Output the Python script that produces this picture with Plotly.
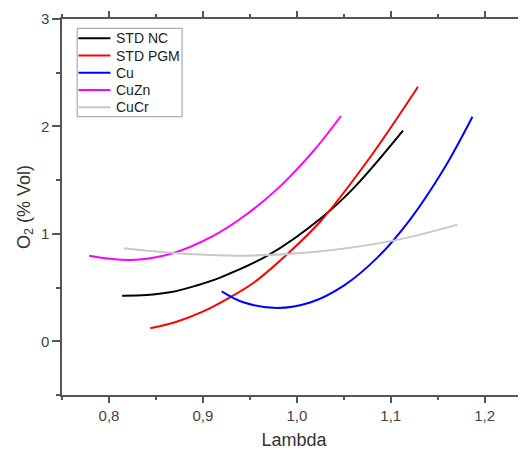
import plotly.graph_objects as go

# Data (Lambda, O2 % Vol)
std_nc_x = [0.814, 0.840, 0.865, 0.892, 0.919, 0.972, 1.025, 1.061, 1.113]
std_nc_y = [0.425, 0.430, 0.456, 0.516, 0.595, 0.813, 1.140, 1.430, 1.960]

std_pgm_x = [0.844, 0.872, 0.901, 0.927, 0.954, 0.990, 1.025, 1.079, 1.129]
std_pgm_y = [0.121, 0.182, 0.281, 0.400, 0.545, 0.813, 1.115, 1.725, 2.369]

cu_x = [0.920, 0.943, 0.979, 1.015, 1.050, 1.086, 1.121, 1.157, 1.187]
cu_y = [0.465, 0.363, 0.310, 0.363, 0.518, 0.781, 1.138, 1.610, 2.090]

cuzn_x = [0.779, 0.823, 0.865, 0.911, 0.947, 0.983, 1.018, 1.047]
cuzn_y = [0.797, 0.757, 0.813, 0.982, 1.185, 1.449, 1.774, 2.097]

cucr_x = [0.816, 0.872, 0.943, 1.015, 1.103, 1.171]
cucr_y = [0.865, 0.819, 0.797, 0.828, 0.937, 1.086]

series_names = ["STD NC", "STD PGM", "Cu", "CuZn", "CuCr"]
series_x = [std_nc_x, std_pgm_x, cu_x, cuzn_x, cucr_x]
series_y = [std_nc_y, std_pgm_y, cu_y, cuzn_y, cucr_y]
series_colors = ["#000000", "#ff0000", "#0000ff", "#ff00ff", "#c8c8c8"]

x_ticks = [0.8, 0.9, 1.0, 1.1, 1.2]
x_tick_text = ["0,8", "0,9", "1,0", "1,1", "1,2"]
y_ticks = [0, 1, 2, 3]

fig = go.Figure()
for name, xs, ys, col in zip(series_names, series_x, series_y, series_colors):
    fig.add_trace(go.Scatter(x=xs, y=ys, mode="lines", name=name, showlegend=False,
                             line=dict(color=col, width=2, shape="spline", smoothing=1)))

font_family = "Arial, Liberation Sans, sans-serif"
axis_col = "#555555"

# Legend drawn in paper coordinates (box, sample lines, labels)
shapes = [dict(type="rect", xref="paper", yref="paper", x0=0.0327, x1=0.2588, y0=0.7402, y1=0.9753,
               line=dict(color="#9a9a9a", width=1), fillcolor="white", layer="above")]
annotations = []
row0 = 0.9487
step = 0.0459
for i, (name, col) in enumerate(zip(series_names, series_colors)):
    yy = row0 - i * step
    shapes.append(dict(type="line", xref="paper", yref="paper", x0=0.0355, x1=0.1044, y0=yy, y1=yy,
                       line=dict(color=col, width=2), layer="above"))
    annotations.append(dict(xref="paper", yref="paper", x=0.113, y=yy, text=name, showarrow=False,
                            xanchor="left", yanchor="middle",
                            font=dict(size=14, color="#222222", family=font_family)))

fig.update_layout(
    width=518, height=442,
    margin=dict(l=53.5, r=0, t=11, b=55),
    paper_bgcolor="white", plot_bgcolor="white",
    font=dict(family=font_family, size=15, color="#333333"),
    showlegend=False,
    shapes=shapes, annotations=annotations,
    xaxis=dict(range=[0.75, 1.244], tickvals=x_ticks, ticktext=x_tick_text,
               showgrid=False, zeroline=False, showline=True, linecolor=axis_col, linewidth=1.5,
               mirror="allticks", ticks="outside", ticklen=6, tickcolor=axis_col, tickwidth=1.5,
               minor=dict(dtick=0.05, tick0=0.75, ticks="outside", ticklen=3, tickcolor=axis_col, tickwidth=1.5),
               title=dict(text="Lambda", font=dict(size=18, color="#333333"), standoff=14),
               tickfont=dict(size=15, color="#444444")),
    yaxis=dict(range=[-0.5, 3], tickvals=y_ticks,
               showgrid=False, zeroline=False, showline=True, linecolor=axis_col, linewidth=1.5,
               ticks="outside", ticklen=8, tickcolor=axis_col, tickwidth=1.5,
               minor=dict(dtick=0.5, tick0=0, ticks="outside", ticklen=4, tickcolor=axis_col, tickwidth=1.5),
               title=dict(text="O<sub>2</sub> (% Vol)", font=dict(size=18, color="#333333"), standoff=6),
               tickfont=dict(size=15, color="#444444")),
)

fig.write_html("out.html")
